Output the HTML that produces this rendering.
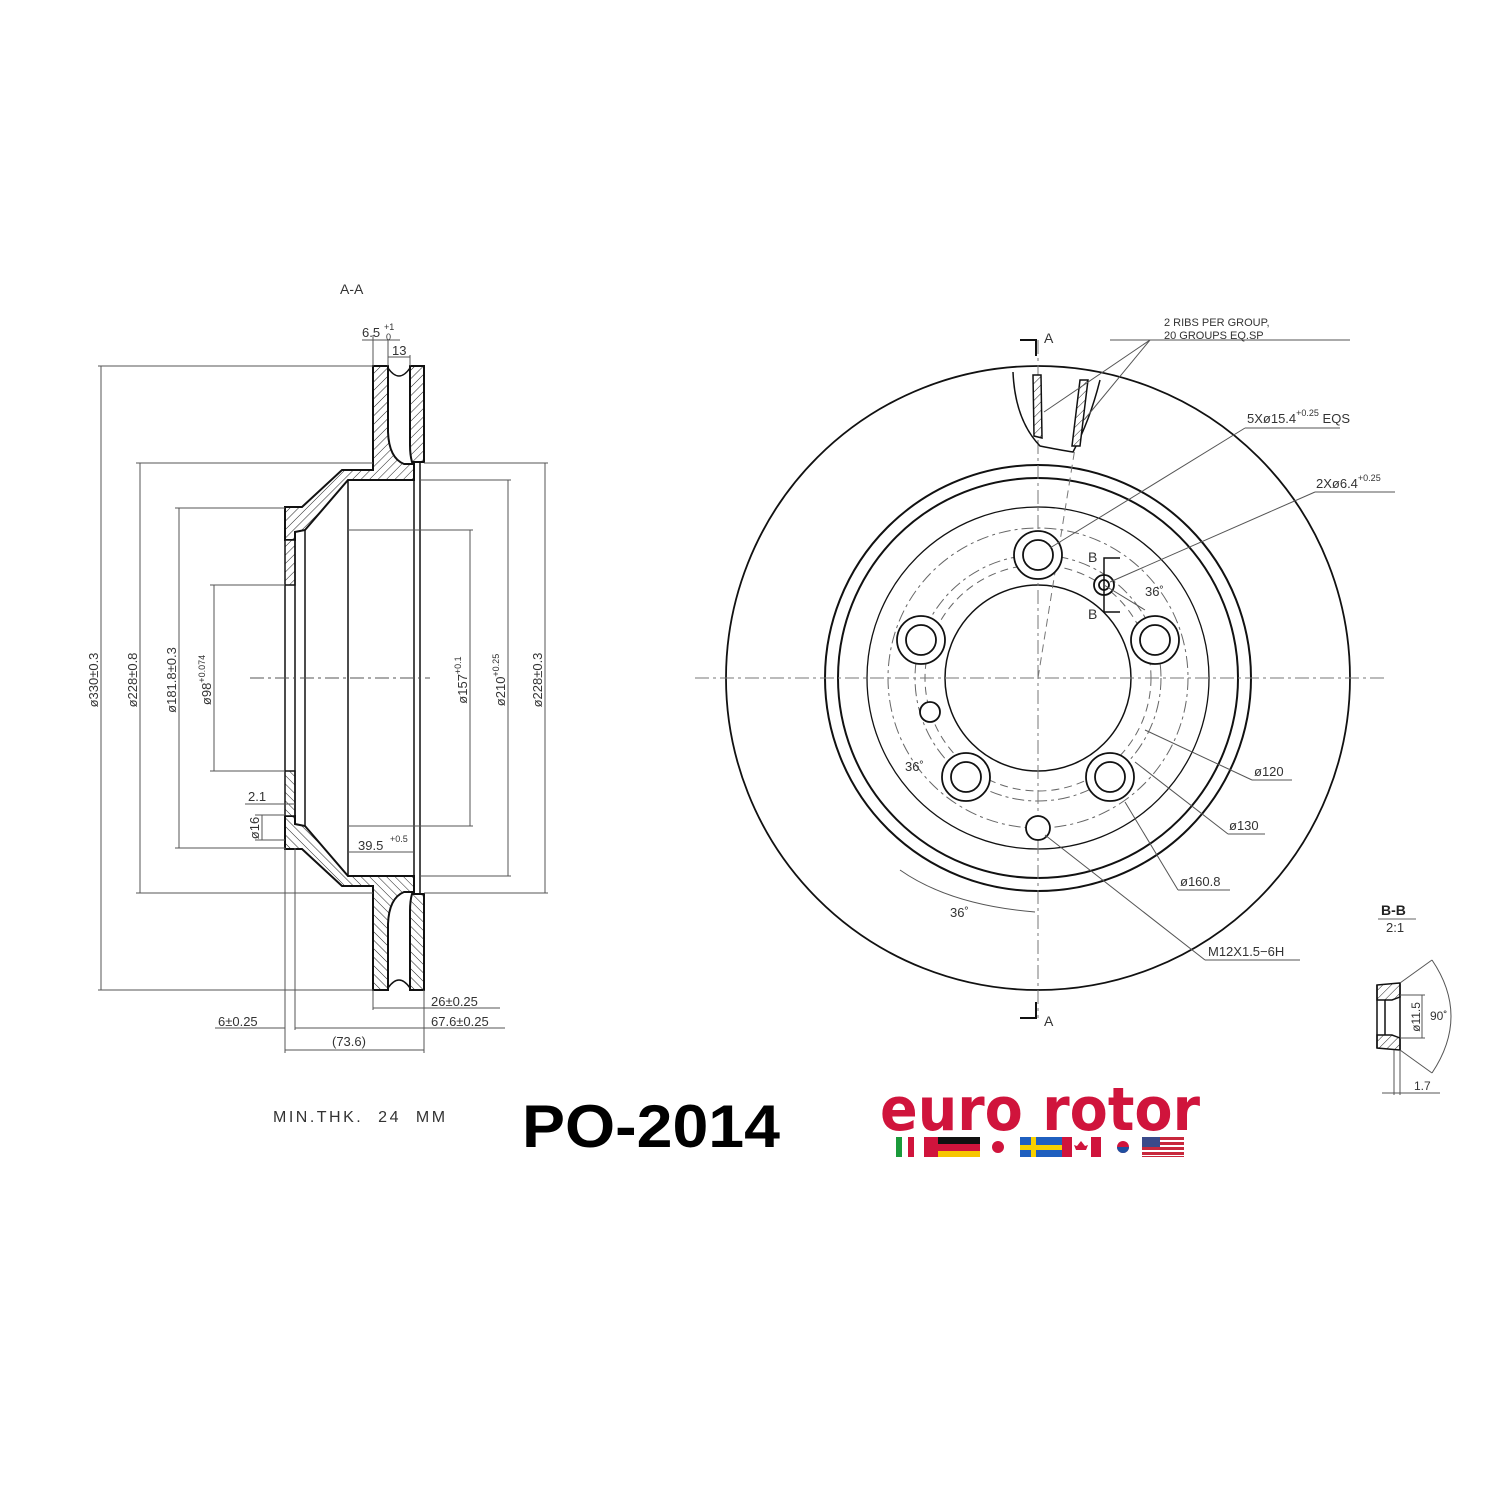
<!DOCTYPE html>
<html><head><meta charset="utf-8"><style>
html,body{margin:0;padding:0;background:#fff}
svg{display:block}
text{font-family:"Liberation Sans",sans-serif;fill:#333}
</style></head><body>
<svg width="1500" height="1500" viewBox="0 0 1500 1500" xmlns="http://www.w3.org/2000/svg">
<defs>
<pattern id="h" patternUnits="userSpaceOnUse" width="6" height="6" patternTransform="rotate(45)">
<rect width="6" height="6" fill="#fff"/><line x1="0" y1="0" x2="0" y2="6" stroke="#222" stroke-width="1"/>
</pattern>
</defs>
<rect width="1500" height="1500" fill="#fff"/>

<text x="340" y="294" font-size="14">A-A</text>
<g id="top" stroke="#111" fill="none">
  <path d="M373,366 L388,366 L388,432 Q389,458 404,464 L414,464 L414,480 L348,480 L305,530 L295,532 L295,540 L285,540 L285,507 L302,507 L342,470 L373,470 Z" fill="url(#h)" stroke-width="2"/>
  <path d="M410,366 L424,366 L424,462 L412,462 Q410,455 410,445 Z" fill="url(#h)" stroke-width="2"/>
  <path d="M388,368 Q399,384 410,368" stroke-width="1.5"/>
  <rect x="285" y="540" width="10" height="45" fill="url(#h)" stroke-width="1.5"/>
</g>
<use href="#top" transform="translate(0,1356) scale(1,-1)"/>
<g stroke="#111" stroke-width="1.5">
  <line x1="295" y1="540" x2="295" y2="816"/>
  <line x1="305" y1="530" x2="305" y2="826"/>
  <line x1="348" y1="480" x2="348" y2="876"/>
  <line x1="414" y1="480" x2="414" y2="876"/>
  <line x1="420" y1="462" x2="420" y2="894"/>
  <line x1="285" y1="585" x2="285" y2="771"/>
</g>
<g stroke="#555" stroke-width="1">
  <line x1="98" y1="366" x2="373" y2="366"/><line x1="98" y1="990" x2="373" y2="990"/>
  <line x1="136" y1="463" x2="373" y2="463"/><line x1="136" y1="893" x2="373" y2="893"/>
  <line x1="175" y1="508" x2="285" y2="508"/><line x1="175" y1="848" x2="285" y2="848"/>
  <line x1="210" y1="585" x2="285" y2="585"/><line x1="210" y1="771" x2="285" y2="771"/>
  <line x1="424" y1="463" x2="548" y2="463"/><line x1="424" y1="893" x2="548" y2="893"/>
  <line x1="420" y1="480" x2="511" y2="480"/><line x1="420" y1="876" x2="511" y2="876"/>
  <line x1="348" y1="530" x2="473" y2="530"/><line x1="348" y1="826" x2="473" y2="826"/>
  <line x1="101" y1="366" x2="101" y2="990"/><line x1="140" y1="463" x2="140" y2="893"/>
  <line x1="179" y1="508" x2="179" y2="848"/><line x1="214" y1="585" x2="214" y2="771"/>
  <line x1="545" y1="463" x2="545" y2="893"/><line x1="508" y1="480" x2="508" y2="876"/>
  <line x1="470" y1="530" x2="470" y2="826"/>
  <line x1="250" y1="678" x2="430" y2="678" stroke-dasharray="14,4,3,4"/>
  <line x1="373" y1="366" x2="373" y2="335"/><line x1="388" y1="366" x2="388" y2="340"/><line x1="410" y1="366" x2="410" y2="355"/>
  <line x1="362" y1="340" x2="400" y2="340"/><line x1="388" y1="357" x2="410" y2="357"/>
  <line x1="373" y1="990" x2="373" y2="1010"/><line x1="424" y1="990" x2="424" y2="1053"/>
  <line x1="285" y1="848" x2="285" y2="1053"/><line x1="295" y1="848" x2="295" y2="1030"/>
  <line x1="373" y1="1008" x2="500" y2="1008"/><line x1="295" y1="1028" x2="505" y2="1028"/>
  <line x1="215" y1="1028" x2="285" y2="1028"/><line x1="285" y1="1050" x2="424" y2="1050"/>
  <line x1="348" y1="852" x2="414" y2="852"/>
  <line x1="245" y1="804" x2="295" y2="804"/><line x1="255" y1="815" x2="285" y2="815"/><line x1="255" y1="840" x2="285" y2="840"/>
  <line x1="262" y1="815" x2="262" y2="840"/>
</g>
<g font-size="13">
  <text x="362" y="337">6.5</text><text x="384" y="330" font-size="9">+1</text><text x="386" y="340" font-size="9">0</text>
  <text x="392" y="355">13</text>
  <text transform="translate(98,680) rotate(-90)" text-anchor="middle">ø330±0.3</text>
  <text transform="translate(137,680) rotate(-90)" text-anchor="middle">ø228±0.8</text>
  <text transform="translate(176,680) rotate(-90)" text-anchor="middle">ø181.8±0.3</text>
  <text transform="translate(211,680) rotate(-90)" text-anchor="middle">ø98<tspan font-size="9" dy="-6">+0.074</tspan></text>
  <text transform="translate(467,680) rotate(-90)" text-anchor="middle">ø157<tspan font-size="9" dy="-6">+0.1</tspan></text>
  <text transform="translate(505,680) rotate(-90)" text-anchor="middle">ø210<tspan font-size="9" dy="-6">+0.25</tspan></text>
  <text transform="translate(542,680) rotate(-90)" text-anchor="middle">ø228±0.3</text>
  <text x="248" y="801">2.1</text>
  <text transform="translate(259,828) rotate(-90)" text-anchor="middle">ø16</text>
  <text x="358" y="850">39.5</text><text x="390" y="842" font-size="9">+0.5</text>
  <text x="431" y="1006">26±0.25</text>
  <text x="431" y="1026">67.6±0.25</text>
  <text x="218" y="1026">6±0.25</text>
  <text x="332" y="1046">(73.6)</text>
  <text x="273" y="1122" font-size="16" fill="#666" letter-spacing="2.5" word-spacing="8">MIN.THK. 24 MM</text>
</g>
<text x="522" y="1147" font-size="60" font-weight="bold" textLength="258" lengthAdjust="spacingAndGlyphs" style="fill:#000">PO-2014</text>

<g stroke="#111" fill="none">
  <circle cx="1038" cy="678" r="312" stroke-width="1.8"/>
  <circle cx="1038" cy="678" r="213" stroke-width="2"/>
  <circle cx="1038" cy="678" r="200" stroke-width="2"/>
  <circle cx="1038" cy="678" r="171" stroke-width="1.3"/>
  <circle cx="1038" cy="678" r="93" stroke-width="1.5"/>
  <circle cx="1038" cy="678" r="123" stroke="#666" stroke-width="1" stroke-dasharray="12,4,3,4"/>
  <circle cx="1038" cy="678" r="113" stroke="#666" stroke-width="1" stroke-dasharray="8,5"/>
  <circle cx="1038" cy="678" r="150" stroke="#666" stroke-width="1" stroke-dasharray="12,4,3,4"/>
  <line x1="695" y1="678" x2="1385" y2="678" stroke="#777" stroke-width="1" stroke-dasharray="14,4,3,4"/>
  <line x1="1038" y1="340" x2="1038" y2="1018" stroke="#777" stroke-width="1" stroke-dasharray="14,4,3,4"/>
  <line x1="1038" y1="678" x2="1075" y2="448" stroke="#777" stroke-width="1" stroke-dasharray="8,5"/>
  <path d="M1020,340 L1036,340 L1036,356" stroke-width="2"/>
  <path d="M1020,1018 L1036,1018 L1036,1002" stroke-width="2"/>
</g>
<g stroke="#111" stroke-width="1.8" fill="#fff">
  <circle cx="1038" cy="555" r="24"/><circle cx="1038" cy="555" r="15"/>
  <circle cx="1155" cy="640" r="24"/><circle cx="1155" cy="640" r="15"/>
  <circle cx="1110" cy="777" r="24"/><circle cx="1110" cy="777" r="15"/>
  <circle cx="966" cy="777" r="24"/><circle cx="966" cy="777" r="15"/>
  <circle cx="921" cy="640" r="24"/><circle cx="921" cy="640" r="15"/>
  <circle cx="1104" cy="585" r="10"/><circle cx="1104" cy="585" r="5"/>
  <circle cx="930" cy="712" r="10"/>
  <circle cx="1038" cy="828" r="12"/>
</g>
<g stroke="#111" stroke-width="1.5" fill="none">
  <path d="M1013,372 Q1015,420 1040,446 Q1060,450 1073,452 Q1090,420 1100,380"/>
  <path d="M1033,375 L1034,436 L1042,438 L1041,375 Z" fill="url(#h)"/>
  <path d="M1080,380 L1088,380 L1080,446 L1072,446 Z" fill="url(#h)"/>
  <path d="M1120,558 L1104,558 L1104,612 L1120,612"/>
</g>
<g stroke="#555" stroke-width="1" fill="none">
  <line x1="1110" y1="340" x2="1350" y2="340"/>
  <line x1="1150" y1="340" x2="1044" y2="412"/><line x1="1150" y1="340" x2="1084" y2="420"/>
  <line x1="1245" y1="428" x2="1340" y2="428"/><line x1="1245" y1="428" x2="1050" y2="548"/>
  <line x1="1315" y1="492" x2="1395" y2="492"/><line x1="1315" y1="492" x2="1110" y2="582"/>
  <line x1="1252" y1="780" x2="1292" y2="780"/><line x1="1252" y1="780" x2="1145" y2="730"/>
  <line x1="1228" y1="834" x2="1265" y2="834"/><line x1="1228" y1="834" x2="1135" y2="762"/>
  <line x1="1178" y1="890" x2="1230" y2="890"/><line x1="1178" y1="890" x2="1125" y2="802"/>
  <line x1="1205" y1="960" x2="1300" y2="960"/><line x1="1205" y1="960" x2="1045" y2="835"/>
  <path d="M900,870 Q950,905 1035,912"/>
  <line x1="1104" y1="585" x2="1145" y2="610"/>
</g>
<g font-size="13">
  <text x="1044" y="343" font-size="14">A</text>
  <text x="1044" y="1026" font-size="14">A</text>
  <text x="1164" y="326" font-size="11">2  RIBS  PER  GROUP,</text>
  <text x="1164" y="339" font-size="11">20  GROUPS  EQ.SP</text>
  <text x="1247" y="423">5Xø15.4<tspan font-size="9" dy="-7">+0.25</tspan><tspan dy="7">  EQS</tspan></text>
  <text x="1316" y="488">2Xø6.4<tspan font-size="9" dy="-7">+0.25</tspan></text>
  <text x="1088" y="562" font-size="14">B</text>
  <text x="1088" y="619" font-size="14">B</text>
  <text x="1145" y="596">36˚</text>
  <text x="905" y="771">36˚</text>
  <text x="950" y="917">36˚</text>
  <text x="1254" y="776">ø120</text>
  <text x="1229" y="830">ø130</text>
  <text x="1180" y="886">ø160.8</text>
  <text x="1208" y="956">M12X1.5−6H</text>
</g>

<text x="1381" y="915" font-size="14" font-weight="bold" style="fill:#222">B-B</text>
<line x1="1378" y1="919" x2="1416" y2="919" stroke="#666"/>
<text x="1386" y="932" font-size="13">2:1</text>
<g stroke="#111" stroke-width="1.5" fill="none">
  <path d="M1377,985 L1400,983 L1400,997 L1392,1000 L1385,1000 L1377,1000 Z" fill="url(#h)"/>
  <path d="M1377,1035 L1385,1035 L1392,1035 L1400,1038 L1400,1050 L1377,1048 Z" fill="url(#h)"/>
  <line x1="1377" y1="985" x2="1377" y2="1048"/>
  <line x1="1400" y1="983" x2="1400" y2="1050"/>
  <line x1="1385" y1="1000" x2="1385" y2="1035"/>
</g>
<g stroke="#555" stroke-width="1" fill="none">
  <line x1="1400" y1="983" x2="1432" y2="960"/><line x1="1400" y1="1050" x2="1432" y2="1073"/>
  <path d="M1432,960 Q1470,1016 1432,1073"/>
  <line x1="1400" y1="995" x2="1425" y2="995"/><line x1="1400" y1="1038" x2="1425" y2="1038"/>
  <line x1="1422" y1="995" x2="1422" y2="1038"/>
  <line x1="1394" y1="1050" x2="1394" y2="1095"/><line x1="1400" y1="1050" x2="1400" y2="1095"/>
  <line x1="1382" y1="1093" x2="1440" y2="1093"/>
</g>
<text transform="translate(1420,1017) rotate(-90)" text-anchor="middle" font-size="12">ø11.5</text>
<text x="1430" y="1020" font-size="12">90˚</text>
<text x="1414" y="1090" font-size="12">1.7</text>

<text x="880" y="1130" font-size="60" font-weight="bold" textLength="320" lengthAdjust="spacingAndGlyphs" style="fill:#d0143c;font-family:'DejaVu Sans','Liberation Sans',sans-serif">euro rotor</text>
<g>
  <rect x="896" y="1137" width="6" height="20" fill="#1a9a3a"/><rect x="902" y="1137" width="6" height="20" fill="#fff"/><rect x="908" y="1137" width="6" height="20" fill="#d0143c"/>
  <rect x="924" y="1137" width="14" height="20" fill="#d0143c"/>
  <rect x="938" y="1137" width="42" height="7" fill="#111"/><rect x="938" y="1144" width="42" height="7" fill="#d0143c"/><rect x="938" y="1151" width="42" height="6" fill="#f7c600"/>
  <circle cx="998" cy="1147" r="6" fill="#d0143c"/>
  <rect x="1020" y="1137" width="42" height="20" fill="#1f5fbf"/><rect x="1031" y="1137" width="5" height="20" fill="#f7d000"/><rect x="1020" y="1145" width="42" height="5" fill="#f7d000"/>
  <rect x="1062" y="1137" width="10" height="20" fill="#d0143c"/><rect x="1091" y="1137" width="10" height="20" fill="#d0143c"/>
  <path d="M1081,1141 l4,5 l3,-1 l-2,5 l-5,0 l-5,0 l-2,-5 l3,1z" fill="#d0143c"/>
  <circle cx="1123" cy="1147" r="6" fill="#d0143c"/><path d="M1117,1147 a6,6 0 0 0 12,0z" fill="#1f4fa0"/>
  <rect x="1142" y="1137" width="42" height="20" fill="#c8283c"/>
  <rect x="1142" y="1140" width="42" height="2" fill="#fff"/><rect x="1142" y="1145" width="42" height="2" fill="#fff"/><rect x="1142" y="1150" width="42" height="2" fill="#fff"/><rect x="1142" y="1155" width="42" height="1" fill="#fff"/>
  <rect x="1142" y="1137" width="18" height="10" fill="#3a4a8a"/>
</g>
</svg>
</body></html>
